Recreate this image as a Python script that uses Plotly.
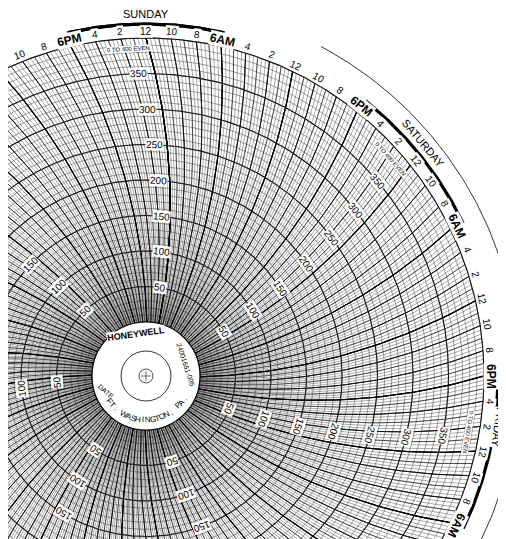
import numpy as np
import plotly.graph_objects as go

# ---- data ----
days = ["SUNDAY", "SATURDAY", "FRIDAY"]
day_noon_offsets_h = [0, -24, -48]          # hours relative to Sunday noon
value_ticks = [50, 100, 150, 200, 250, 300, 350]
value_min, value_max = 0, 400
hour_labels = {0: "12", 2: "2", 4: "4", 6: "6AM", 8: "8", 10: "10",
               12: "12", 14: "2", 16: "4", 18: "6PM", 20: "8", 22: "10"}
scale_times_h = [0, -24, -48, -72, -96, -120, -144]   # value scales, one per day (Sunday noon origin)

# ---- geometry ----
R0, R400 = 54.0, 338.0
L = 600.0
def rad(v):
    return R0 + (R400 - R0) * (v - value_min) / (value_max - value_min)
def phi(r):
    return np.degrees(np.arccos(r / (2 * L)))
def theta_out(t):   # t hours rel. Sunday noon -> degrees
    return 90 + t * 360 / 168
def theta(t, r):
    return theta_out(t) - (phi(r) - phi(R400))
def xy(th, r):
    a = np.radians(th)
    return r * np.cos(a), r * np.sin(a)

fig = go.Figure()

# circles
ang = np.linspace(0, 360, 721)
for step, w, col in [(10, 0.5, "#444"), (50, 1.1, "#111")]:
    xs, ys = [], []
    for v in range(value_min, value_max + 1, step):
        x, y = xy(ang, rad(v))
        xs += list(x) + [None]; ys += list(y) + [None]
    fig.add_trace(go.Scatter(x=xs, y=ys, mode="lines", line=dict(color=col, width=w), hoverinfo="skip"))

# time arcs
rr = np.linspace(R0, R400, 40)
groups = [(1/3, 0.45, "#444"), (1, 0.7, "#222"), (2, 1.0, "#111"), (6, 1.3, "#000")]
for step, w, col in groups:
    xs, ys = [], []
    for t in np.arange(-168, 0.001, step):
        x, y = xy(theta(t, rr), rr)
        xs += list(x) + [None]; ys += list(y) + [None]
    fig.add_trace(go.Scatter(x=xs, y=ys, mode="lines", line=dict(color=col, width=w), hoverinfo="skip"))

# night bars on outer edge and thin outer circle
xs, ys = [], []
for d in range(8):
    t1 = 6 - 24 * d; t0 = t1 - 12
    a = np.linspace(theta_out(t0), theta_out(t1), 80)
    x, y = xy(a, 352)
    xs += list(x) + [None]; ys += list(y) + [None]
fig.add_trace(go.Scatter(x=xs, y=ys, mode="lines", line=dict(color="#000", width=3.2), hoverinfo="skip"))
a = np.linspace(-70, 62, 200)
x, y = xy(a, 373)
fig.add_trace(go.Scatter(x=x, y=y, mode="lines", line=dict(color="#000", width=0.8), hoverinfo="skip"))

# hub
shapes = []
def circ(r, fill=None, w=1):
    return dict(type="circle", x0=-r, y0=-r, x1=r, y1=r, line=dict(color="#000", width=w),
                fillcolor=fill if fill else "rgba(0,0,0,0)", layer="above")
shapes.append(circ(R0, "white", 1.2))
shapes.append(circ(25, None, 0.8))
shapes.append(circ(7, None, 0.7))
shapes.append(dict(type="line", x0=-5, y0=0, x1=5, y1=0, line=dict(color="#000", width=0.6)))
shapes.append(dict(type="line", x0=0, y0=-5, x1=0, y1=5, line=dict(color="#000", width=0.6)))

ann = []
def text(x, y, s, size, angle=0, bold=False):
    ann.append(dict(x=x, y=y, text=f"<b>{s}</b>" if bold else s, showarrow=False,
                    font=dict(size=size, color="#000", family="Liberation Sans, Arial"),
                    textangle=angle, xanchor="center", yanchor="middle", bgcolor="white",
                    borderpad=0))

# hour labels
for t in range(-168, 1, 2):
    h = (12 + t) % 24
    s = hour_labels[h]
    th = theta_out(t)
    big = s in ("6AM", "6PM")
    x, y = xy(th, 345)
    text(x, y, s, 12 if big else 10, 90 - th, big)

# day labels
for name, t, off, r in zip(days, day_noon_offsets_h, [0, 1.5, 4.5], [362, 362, 356]):
    th = theta_out(t) + off
    x, y = xy(th, r)
    text(x, y, name, 11, 90 - th)

# value labels and range notes
for t in scale_times_h:
    for v in value_ticks:
        r = rad(v)
        th = theta(t + 1.5, r)
        x, y = xy(th, r)
        text(x, y, str(v), 10, 90 - th)
    th = theta_out(t) + 3
    x, y = xy(th, 327)
    text(x, y, "0 TO 400 EVEN", 6, 90 - th)

# hub text
text(-10, 42, "HONEYWELL", 9, -8, True)
text(40, 12, "24001661-005", 7, 72)
text(-40, -15, "DATE", 7, 40)
label = "FT. WASHINGTON, PA."
for i, ch in enumerate(label):
    th = 215 + i * (115 / (len(label) - 1))
    x, y = xy(th, 44)
    ann.append(dict(x=x, y=y, text=ch, showarrow=False, textangle=270 - th,
                    font=dict(size=8, color="#000", family="Liberation Sans, Arial")))

fig.update_layout(
    width=506, height=539, margin=dict(l=0, r=0, t=0, b=0),
    paper_bgcolor="white", plot_bgcolor="white", showlegend=False,
    xaxis=dict(range=[-138, 368], visible=False),
    yaxis=dict(range=[-171, 368], visible=False, scaleanchor="x", scaleratio=1),
    shapes=shapes, annotations=ann,
)
fig.write_html("out.html")
